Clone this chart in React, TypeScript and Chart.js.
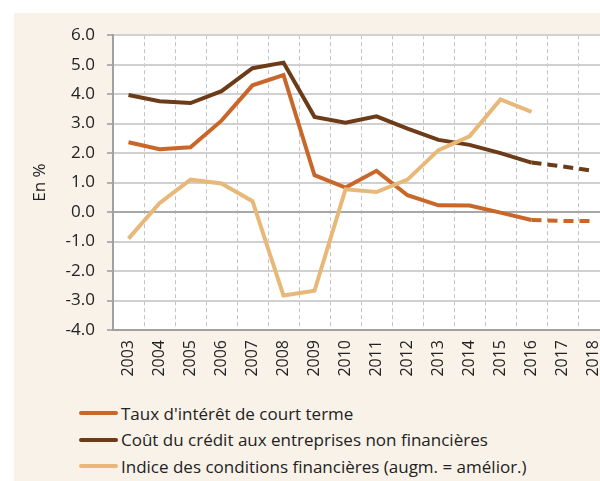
import React, { useEffect, useRef } from "react";
import { Chart, registerables } from "chart.js";

Chart.register(...registerables);

const years = ["2003","2004","2005","2006","2007","2008","2009","2010","2011","2012","2013","2014","2015","2016","2017","2018"];
const tauxCourt = [2.37, 2.13, 2.2, 3.1, 4.3, 4.65, 1.25, 0.83, 1.4, 0.57, 0.23, 0.22, -0.02, -0.27, -0.3, -0.3];
const coutCredit = [3.97, 3.76, 3.7, 4.1, 4.88, 5.07, 3.23, 3.03, 3.25, 2.83, 2.45, 2.28, 2.0, 1.68, 1.55, 1.4];
const indiceConditions = [-0.9, 0.3, 1.1, 0.97, 0.37, -2.83, -2.67, 0.77, 0.68, 1.1, 2.1, 2.57, 3.82, 3.4, null, null];
const yTicks = [-4, -3, -2, -1, 0, 1, 2, 3, 4, 5, 6];

const labels = {
  taux: "Taux d'intérêt de court terme",
  cout: "Coût du crédit aux entreprises non financières",
  indice: "Indice des conditions financières (augm. = amélior.)",
};

const colors = {
  taux: "#c9672b",
  cout: "#6d3b17",
  indice: "#e8b879",
};

const FONT = "'Open Sans', 'DejaVu Sans', sans-serif";
const FORECAST_FROM = 13;

const chartAreaBg = {
  id: "chartAreaBg",
  beforeDraw(chart: any) {
    const { ctx, chartArea } = chart;
    ctx.save();
    ctx.fillStyle = "#ffffff";
    ctx.fillRect(chartArea.left, chartArea.top, chartArea.right - chartArea.left, chartArea.bottom - chartArea.top);
    ctx.restore();
  },
};

export default function App() {
  const ref = useRef<HTMLCanvasElement | null>(null);

  useEffect(() => {
    if (!ref.current) return;
    const dashSeg = {
      borderDash: (ctx: any) => (ctx.p0DataIndex >= FORECAST_FROM ? [10, 6] : undefined),
    };
    const chart = new Chart(ref.current, {
      type: "line",
      data: {
        labels: years,
        datasets: [
          {
            label: labels.taux,
            data: tauxCourt,
            borderColor: colors.taux,
            backgroundColor: colors.taux,
            borderWidth: 4,
            pointRadius: 0,
            tension: 0,
            order: 2,
            segment: dashSeg,
          },
          {
            label: labels.cout,
            data: coutCredit,
            borderColor: colors.cout,
            backgroundColor: colors.cout,
            borderWidth: 4,
            pointRadius: 0,
            tension: 0,
            order: 1,
            segment: dashSeg,
          },
          {
            label: labels.indice,
            data: indiceConditions,
            borderColor: colors.indice,
            backgroundColor: colors.indice,
            borderWidth: 4,
            pointRadius: 0,
            tension: 0,
            order: 0,
            spanGaps: false,
          },
        ],
      },
      options: {
        animation: false,
        responsive: false,
        layout: { padding: { top: 17, right: 25, left: 0, bottom: 0 } },
        plugins: { legend: { display: false }, tooltip: { enabled: false } },
        scales: {
          x: {
            offset: true,
            grid: {
              offset: true,
              drawTicks: false,
              color: "#c4c4c4",
              lineWidth: 1,
            } as any,
            border: { display: true, color: "#a0a0a0", width: 2, dash: [4, 3] } as any,
            ticks: {
              minRotation: 90,
              maxRotation: 90,
              padding: 10,
              color: "#222",
              font: { family: FONT, size: 16 },
              autoSkip: false,
            },
            afterFit(scale: any) {
              scale.height = 70;
            },
          },
          y: {
            min: -4,
            max: 6,
            afterBuildTicks(scale: any) {
              scale.ticks = yTicks.map((v) => ({ value: v }));
            },
            grid: {
              color: (c: any) => (c.tick && c.tick.value === 0 ? "#a8a8a8" : "#d0d0d0"),
              lineWidth: 2,
              tickLength: 6,
              tickColor: "#b0b0b0",
            },
            border: { display: true, color: "#a0a0a0", width: 2 },
            ticks: {
              padding: 12,
              color: "#222",
              font: { family: FONT, size: 17 },
              callback: (v: any) => Number(v).toFixed(1),
            },
            title: {
              display: true,
              text: "En %",
              color: "#222",
              font: { family: FONT, size: 17 },
              padding: { top: 16, bottom: 0 },
            },
            afterFit(scale: any) {
              scale.width = 99;
            },
          },
        },
      },
      plugins: [chartAreaBg],
    });
    return () => chart.destroy();
  }, []);

  const legendItems = [
    { key: "taux", text: labels.taux, color: colors.taux },
    { key: "cout", text: labels.cout, color: colors.cout },
    { key: "indice", text: labels.indice, color: colors.indice },
  ];

  return (
    <div style={{ position: "fixed", left: 0, top: 0, width: 600, height: 481, overflow: "hidden", background: "#ffffff" }}>
      <div style={{ position: "absolute", left: 14, top: 13, right: 0, bottom: 0, background: "#f9f2e9" }} />
      <canvas
        ref={ref}
        width={620}
        height={387}
        style={{ position: "absolute", left: 14, top: 13, width: 620, height: 387 }}
      />
      {legendItems.map((it, i) => (
        <div
          key={it.key}
          style={{
            position: "absolute",
            left: 79,
            top: 413 + i * 26.5 - 13,
            height: 26,
            display: "flex",
            alignItems: "center",
            fontFamily: FONT,
            fontSize: 17,
            color: "#222",
            whiteSpace: "nowrap",
          }}
        >
          <span style={{ display: "inline-block", width: 39, height: 4, background: it.color, borderRadius: 2, marginRight: 3 }} />
          <span>{it.text}</span>
        </div>
      ))}
    </div>
  );
}
